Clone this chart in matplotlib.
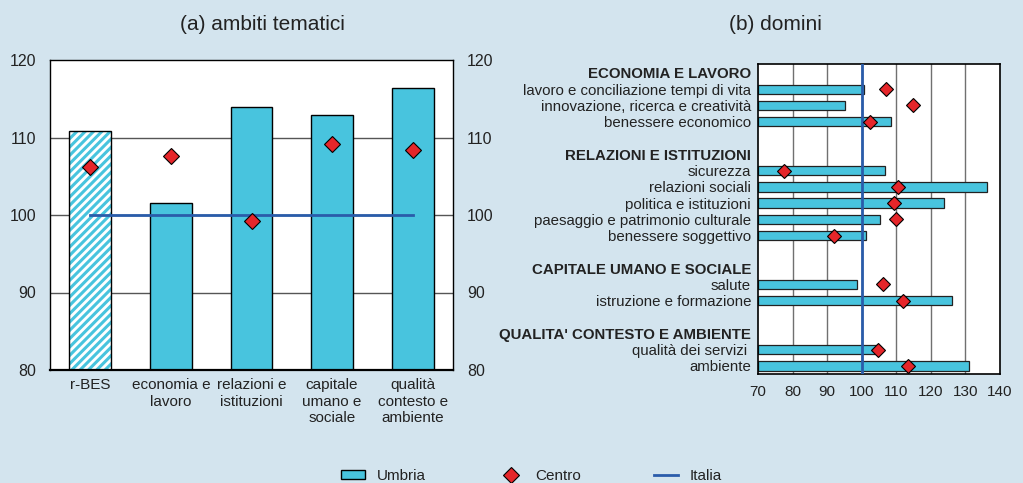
import matplotlib
matplotlib.use("Agg")
import matplotlib.pyplot as plt
from matplotlib.patches import Patch
from matplotlib.lines import Line2D
import numpy as np

plt.rcParams['font.family'] = ['Liberation Sans', 'DejaVu Sans']
plt.rcParams['hatch.linewidth'] = 2.2

# ---------------- data ----------------
themes = ["r-BES", "economia e\nlavoro", "relazioni e\nistituzioni",
          "capitale\numano e\nsociale", "qualità\ncontesto e\nambiente"]
themes_umbria = [110.8, 101.6, 114.0, 112.9, 116.4]
themes_centro = [106.2, 107.6, 99.2, 109.1, 108.4]
themes_italia = [100, 100, 100, 100, 100]

groups = ["ECONOMIA E LAVORO", "RELAZIONI E ISTITUZIONI",
          "CAPITALE UMANO E SOCIALE", "QUALITA' CONTESTO E AMBIENTE"]
domains = [
    ["lavoro e conciliazione tempi di vita", "innovazione, ricerca e creatività", "benessere economico"],
    ["sicurezza", "relazioni sociali", "politica e istituzioni",
     "paesaggio e patrimonio culturale", "benessere soggettivo"],
    ["salute", "istruzione e formazione"],
    ["qualità dei servizi ", "ambiente"],
]
domains_umbria = [
    [100.7, 95.3, 108.4],
    [106.7, 136.3, 123.8, 105.4, 101.1],
    [98.7, 126.0],
    [104.5, 131.0],
]
domains_centro = [
    [106.9, 114.8, 102.5],
    [77.6, 110.5, 109.3, 109.9, 92.0],
    [106.3, 111.9],
    [104.6, 113.4],
]
italia_value = 100

left_ticks = [80, 90, 100, 110, 120]
right_ticks = [70, 80, 90, 100, 110, 120, 130, 140]

# ---------------- style ----------------
BG = '#d3e4ee'
CYAN = '#48c4de'
RED = '#e5262a'
BLUE = '#2a5caa'
TXT = '#222222'

fig = plt.figure(figsize=(10.23, 4.83), dpi=100, facecolor=BG)

# ---------------- panel (a) ----------------
ax1 = fig.add_axes([50/1023, 1-370/483, 403/1023, 310/483])
ax1.set_facecolor('white')
x = np.arange(len(themes))
w = 0.52
for yv in [90, 100, 110]:
    ax1.axhline(yv, color='#555555', lw=1.0, zorder=0)
# hatched first bar
ax1.bar(x[0], themes_umbria[0] - 80, w, bottom=80, facecolor='white',
        edgecolor=CYAN, hatch='////', lw=0, zorder=2)
ax1.bar(x[0], themes_umbria[0] - 80, w, bottom=80, fill=False,
        edgecolor='black', lw=1.0, zorder=3)
ax1.bar(x[1:], np.array(themes_umbria[1:]) - 80, w, bottom=80, color=CYAN,
        edgecolor='black', lw=1.0, zorder=2)
ax1.plot(x, themes_italia, color=BLUE, lw=2, zorder=4)
ax1.plot(x, themes_centro, 'D', color=RED, mec='black', mew=0.8, ms=8.5,
         zorder=5, ls='none')
ax1.set_xlim(-0.5, len(themes) - 0.5)
ax1.set_ylim(80, 120)
ax1.set_yticks(left_ticks)
ax1.set_xticks(x)
ax1.set_xticklabels(themes, fontsize=11, color=TXT, linespacing=1.2)
ax1.tick_params(axis='both', length=0, colors=TXT)
ax1.tick_params(axis='y', pad=10, labelsize=11.5)
ax1.tick_params(axis='x', pad=6)
for s in ax1.spines.values():
    s.set_color('black')
    s.set_linewidth(1.0)
ax1.spines['bottom'].set_linewidth(1.6)
ax1r = ax1.twinx()
ax1r.set_ylim(80, 120)
ax1r.set_yticks(left_ticks)
ax1r.tick_params(axis='y', length=0, labelsize=11.5, colors=TXT, pad=10)
ax1r.spines[:].set_visible(False)
fig.text(262.5/1023, 1-24/483, "(a) ambiti tematici", fontsize=15, color=TXT,
         ha='center', va='center')

# ---------------- panel (b) ----------------
ax2 = fig.add_axes([758/1023, 1-374/483, 242/1023, 310/483])
ax2.set_facecolor('white')
labels, ypos, is_header = [], [], []
bar_y, bar_v, cen_v = [], [], []
pos = 0
for gi, g in enumerate(groups):
    labels.append(g); ypos.append(pos); is_header.append(True)
    pos += 1
    for name, u, c in zip(domains[gi], domains_umbria[gi], domains_centro[gi]):
        labels.append(name); ypos.append(pos); is_header.append(False)
        bar_y.append(pos); bar_v.append(u); cen_v.append(c)
        pos += 1
    pos += 1
last = pos - 2
for xv in [80, 90, 100, 110, 120, 130]:
    ax2.axvline(xv, color='#707070', lw=1.0, zorder=0)
ax2.barh(bar_y, np.array(bar_v) - 70, height=0.58, left=70, color=CYAN,
         edgecolor='#222222', lw=0.9, zorder=2)
ax2.axvline(italia_value, color=BLUE, lw=2, zorder=3)
ax2.plot(cen_v, bar_y, 'D', color=RED, mec='black', mew=0.8, ms=7.5,
         ls='none', zorder=5)
ax2.set_xlim(70, 140)
ax2.set_ylim(last + 0.5, -0.55)
ax2.set_xticks(right_ticks)
ax2.set_yticks(ypos)
ax2.set_yticklabels(labels, fontsize=10.8, color=TXT)
for t, h in zip(ax2.get_yticklabels(), is_header):
    if h:
        t.set_fontweight('bold')
        t.set_color('#2a2a2a')
ax2.tick_params(axis='both', length=0, colors=TXT)
ax2.tick_params(axis='x', labelsize=11, pad=8)
ax2.tick_params(axis='y', pad=5)
for s in ax2.spines.values():
    s.set_color('black')
    s.set_linewidth(1.2)
fig.text(775/1023, 1-24/483, "(b) domini", fontsize=15, color=TXT,
         ha='center', va='center')

# ---------------- legend ----------------
handles = [Patch(facecolor=CYAN, edgecolor='black', lw=1.0),
           Line2D([], [], marker='D', color=RED, mec='black', mew=0.8, ms=8, ls='none'),
           Line2D([], [], color=BLUE, lw=2)]
fig.legend(handles, ["Umbria", "Centro", "Italia"], loc='center',
           bbox_to_anchor=(531.5/1023, 7/483), ncol=3, frameon=False, fontsize=11,
           handlelength=1.6, handleheight=0.55, columnspacing=4.8, handletextpad=0.75,
           labelcolor=TXT, borderpad=0, borderaxespad=0)

fig.savefig("out.png", dpi=100, facecolor=BG)
